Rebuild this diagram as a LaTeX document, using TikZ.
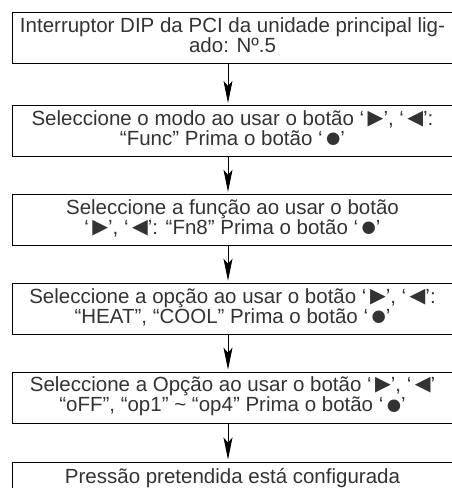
\documentclass[tikz,border=0pt]{standalone}
\usepackage{fontspec}
\setmainfont{Liberation Sans}
\newfontfamily\symfont[Scale=1.0]{DejaVu Sans}
\newfontfamily\dotfont[Scale=0.8]{DejaVu Sans}
\usetikzlibrary{arrows.meta,positioning}

\newcommand{\rgt}{\,\raisebox{1pt}{\symfont ▶}}
\newcommand{\lft}{\,\raisebox{1pt}{\symfont ◀}}
\newcommand{\okbtn}{\,\raisebox{1.5pt}{\dotfont ●}}
\newcommand{\flowfont}{\fontsize{20.5}{20}\selectfont}
\newcommand{\topstrut}{\vrule width 0pt height 22pt depth 0pt\relax}
\newcommand{\botstrut}[1]{\vrule width 0pt height 0pt depth #1\relax}

\tikzset{
  flowbox/.style={draw, line width=0.9pt, minimum width=441pt, minimum height=51pt,
    inner sep=0pt, align=center, text=black!80, font=\flowfont,
    execute at begin node={\topstrut},
    execute at end node={\botstrut{6pt}}},
  flow/.style={line width=0.8pt, -{Stealth[length=22pt,width=9pt,inset=5pt]}, shorten >=2pt}
}

\begin{document}
\begin{tikzpicture}
    \useasboundingbox (0,0) rectangle (452pt,-488pt);
    \clip (0,0) rectangle (452pt,-488pt);

    \node[flowbox, anchor=north] (dip) at (232.5pt,-12pt)
        {Interruptor DIP da PCI da unidade principal lig-\\ado: Nº.5};
    \node[flowbox, below=41pt of dip] (modo)
        {Seleccione o modo ao usar o botão ‘\rgt’, ‘\lft’:\\“Func” Prima o botão ‘\okbtn’};
    \node[flowbox, below=37pt of modo] (funcao)
        {Seleccione a função ao usar o botão\\‘\rgt’, ‘\lft’: “Fn8” Prima o botão ‘\okbtn’};
    \node[flowbox, below=37pt of funcao] (heat)
        {Seleccione a opção ao usar o botão ‘\rgt’, ‘\lft’:\\“HEAT”, “COOL” Prima o botão ‘\okbtn’};
    \node[flowbox, below=37pt of heat] (opcao)
        {Seleccione a Opção ao usar o botão ‘\rgt’, ‘\lft’\\“oFF”, “op1” \textasciitilde{} “op4” Prima o botão ‘\okbtn’};
    \node[flowbox, minimum height=0pt, below=38pt of opcao] (fim)
        {Pressão pretendida está configurada\botstrut{14pt}};

    % arrows sit a little left of the box centres
    \draw[flow] ([xshift=-4.5pt]dip.south) -- ([xshift=-4.5pt]modo.north);
    \draw[flow] ([xshift=-4.5pt]modo.south) -- ([xshift=-4.5pt]funcao.north);
    \draw[flow] ([xshift=-4.5pt]funcao.south) -- ([xshift=-4.5pt]heat.north);
    \draw[flow] ([xshift=-4.5pt]heat.south) -- ([xshift=-4.5pt]opcao.north);
    \draw[flow] ([xshift=-4.5pt]opcao.south) -- ([xshift=-4.5pt]fim.north);
\end{tikzpicture}
\end{document}
